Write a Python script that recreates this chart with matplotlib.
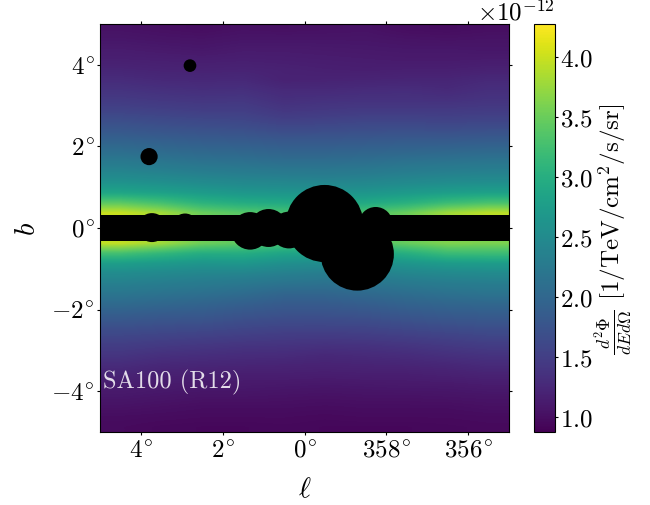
import numpy as np
import matplotlib
matplotlib.use("Agg")
import matplotlib.pyplot as plt
from matplotlib.patches import Circle

plt.rcParams['font.family'] = ['cmr10', 'DejaVu Sans']
plt.rcParams['mathtext.fontset'] = 'cm'
plt.rcParams['axes.formatter.use_mathtext'] = True
plt.rcParams['axes.unicode_minus'] = False

# flux in 1e-12, rows b = 4.875 ... -4.875, columns l = 4.5 ... -4.5
flux_rows = [
    [1.04, 1.02, 1.00, 1.03, 1.02, 1.03, 1.04, 1.00, 0.99, 1.01],
    [1.08, 1.06, 1.05, 1.07, 1.07, 1.07, 1.07, 1.05, 1.04, 1.05],
    [1.13, 1.11, 1.09, 1.12, 1.12, 1.11, 1.10, 1.09, 1.09, 1.08],
    [1.17, 1.16, 1.15, 1.16, 1.15, 1.14, 1.13, 1.12, 1.12, 1.13],
    [1.23, 1.21, 1.20, 1.21, 1.19, 1.17, 1.16, 1.17, 1.17, 1.19],
    [1.30, 1.27, 1.26, 1.27, 1.20, 1.21, 1.22, 1.23, 1.23, 1.27],
    [1.38, 1.35, 1.33, 1.34, 1.28, 1.28, 1.30, 1.31, 1.28, 1.33],
    [1.46, 1.43, 1.41, 1.42, 1.34, 1.36, 1.37, 1.37, 1.36, 1.39],
    [1.56, 1.53, 1.50, 1.50, 1.42, 1.44, 1.46, 1.46, 1.46, 1.47],
    [1.69, 1.65, 1.62, 1.60, 1.53, 1.55, 1.58, 1.58, 1.56, 1.58],
    [1.81, 1.77, 1.74, 1.72, 1.67, 1.68, 1.70, 1.71, 1.70, 1.72],
    [1.96, 1.92, 1.88, 1.86, 1.82, 1.82, 1.84, 1.86, 1.86, 1.88],
    [2.10, 2.06, 2.02, 2.00, 1.96, 1.96, 1.98, 2.00, 2.02, 2.04],
    [2.26, 2.21, 2.16, 2.14, 2.10, 2.10, 2.12, 2.16, 2.18, 2.20],
    [2.42, 2.37, 2.32, 2.29, 2.26, 2.25, 2.27, 2.31, 2.34, 2.36],
    [2.60, 2.56, 2.50, 2.46, 2.44, 2.42, 2.44, 2.48, 2.52, 2.54],
    [2.86, 2.80, 2.72, 2.66, 2.64, 2.62, 2.64, 2.70, 2.76, 2.80],
    [3.40, 3.25, 3.05, 2.96, 2.92, 2.90, 2.92, 3.02, 3.18, 3.28],
    [3.98, 3.80, 3.50, 3.38, 3.30, 3.25, 3.32, 3.50, 3.78, 3.92],
    [4.02, 3.85, 3.55, 3.42, 3.34, 3.30, 3.36, 3.54, 3.82, 3.96],
    [4.00, 3.82, 3.56, 3.46, 3.34, 3.30, 3.36, 3.52, 3.66, 3.64],
    [3.95, 3.78, 3.52, 3.42, 3.30, 3.25, 3.32, 3.48, 3.62, 3.60],
    [3.25, 3.12, 2.98, 2.98, 2.86, 2.82, 2.88, 3.00, 3.18, 3.20],
    [2.76, 2.70, 2.64, 2.66, 2.56, 2.52, 2.56, 2.64, 2.72, 2.74],
    [2.50, 2.46, 2.42, 2.40, 2.34, 2.30, 2.34, 2.42, 2.46, 2.48],
    [2.34, 2.30, 2.26, 2.22, 2.16, 2.14, 2.18, 2.24, 2.28, 2.30],
    [2.19, 2.15, 2.11, 2.06, 1.98, 1.98, 2.03, 2.08, 2.13, 2.16],
    [2.04, 2.00, 1.96, 1.90, 1.84, 1.84, 1.88, 1.94, 1.98, 2.00],
    [1.88, 1.84, 1.82, 1.76, 1.72, 1.72, 1.74, 1.80, 1.84, 1.86],
    [1.73, 1.70, 1.68, 1.63, 1.60, 1.60, 1.61, 1.66, 1.70, 1.73],
    [1.60, 1.57, 1.54, 1.51, 1.48, 1.47, 1.49, 1.52, 1.56, 1.60],
    [1.49, 1.45, 1.42, 1.39, 1.38, 1.36, 1.37, 1.40, 1.44, 1.48],
    [1.39, 1.34, 1.32, 1.30, 1.29, 1.26, 1.28, 1.30, 1.34, 1.37],
    [1.29, 1.25, 1.23, 1.22, 1.21, 1.20, 1.21, 1.22, 1.24, 1.28],
    [1.21, 1.17, 1.16, 1.15, 1.15, 1.14, 1.15, 1.15, 1.17, 1.19],
    [1.14, 1.12, 1.10, 1.10, 1.09, 1.08, 1.09, 1.10, 1.10, 1.12],
    [1.09, 1.07, 1.05, 1.05, 1.04, 1.03, 1.04, 1.04, 1.05, 1.06],
    [1.04, 1.02, 1.00, 1.00, 1.00, 0.99, 1.00, 1.00, 1.00, 1.02],
    [0.99, 0.98, 0.97, 0.97, 0.97, 0.96, 0.97, 0.97, 0.97, 0.98],
    [0.97, 0.95, 0.94, 0.94, 0.95, 0.94, 0.94, 0.94, 0.95, 0.96],
]

# masked sources, in degrees
mask_l = [2.80, 3.80, 3.73, 2.92, 1.33, 0.88, 0.38, -0.49, -1.29, -1.74]
mask_b = [3.98, 1.75, 0.01, 0.03, -0.07, 0.0, -0.05, 0.11, -0.64, 0.10]
mask_r = [0.155, 0.21, 0.355, 0.325, 0.46, 0.465, 0.45, 0.945, 0.895, 0.415]
band_halfwidth = 0.31

xtick_pos = [4, 2, 0, -2, -4]
xtick_labels = [r'$4^{\!\circ}$', r'$2^{\!\circ}$', r'$0^{\!\circ}$', r'$358^{\!\circ}$', r'$356^{\!\circ}$']
ytick_pos = [4, 2, 0, -2, -4]
ytick_labels = [r'$4^{\!\circ}$', r'$2^{\!\circ}$', r'$0^{\!\circ}$', r'$-2^{\!\circ}$', r'$-4^{\!\circ}$']
cbar_ticks = [1.0e-12, 1.5e-12, 2.0e-12, 2.5e-12, 3.0e-12, 3.5e-12, 4.0e-12]

fig = plt.figure(figsize=(6.5, 5.06), dpi=100)
ax = fig.add_axes([100 / 650, 73 / 506, 409 / 650, 408 / 506])
cax = fig.add_axes([534 / 650, 73 / 506, 21 / 650, 408 / 506])

flux = np.array(flux_rows) * 1e-12
im = ax.imshow(flux, extent=[5, -5, -5, 5], origin='upper', cmap='viridis',
               vmin=0.875e-12, vmax=4.275e-12, aspect='auto', interpolation='bilinear')

ax.axhspan(-band_halfwidth, band_halfwidth, color='black', lw=0, zorder=2)
for l, b, r in zip(mask_l, mask_b, mask_r):
    ax.add_patch(Circle((l, b), r, color='black', lw=0, zorder=2))

ax.set_xlim(5, -5)
ax.set_ylim(-5, 5)
ax.set_xticks(xtick_pos)
ax.set_xticklabels(xtick_labels, fontsize=18)
ax.set_yticks(ytick_pos)
ax.set_yticklabels(ytick_labels, fontsize=18)
ax.tick_params(top=True, right=True, length=2, width=0.8)
ax.tick_params(axis='x', pad=3.5)
ax.tick_params(axis='y', pad=2)
ax.set_xlabel(r'$\ell$', fontsize=21, labelpad=10)
ax.set_ylabel(r'$b$', fontsize=21, labelpad=7)
ax.text(4.93, -3.77, 'SA100 (R12)', color='white', alpha=0.85, fontsize=17.6, va='center', ha='left')

cb = fig.colorbar(im, cax=cax, ticks=cbar_ticks)
cb.ax.tick_params(labelsize=18, length=2, width=0.8, pad=1.5)
cb.ax.yaxis.get_offset_text().set_fontsize(18)
cb.set_label(r'$\frac{d^2\Phi}{dEd\Omega}$ [1/TeV/cm$^2$/s/sr]', fontsize=18, labelpad=0)

plt.savefig('out.png', dpi=100)
plt.close('all')
